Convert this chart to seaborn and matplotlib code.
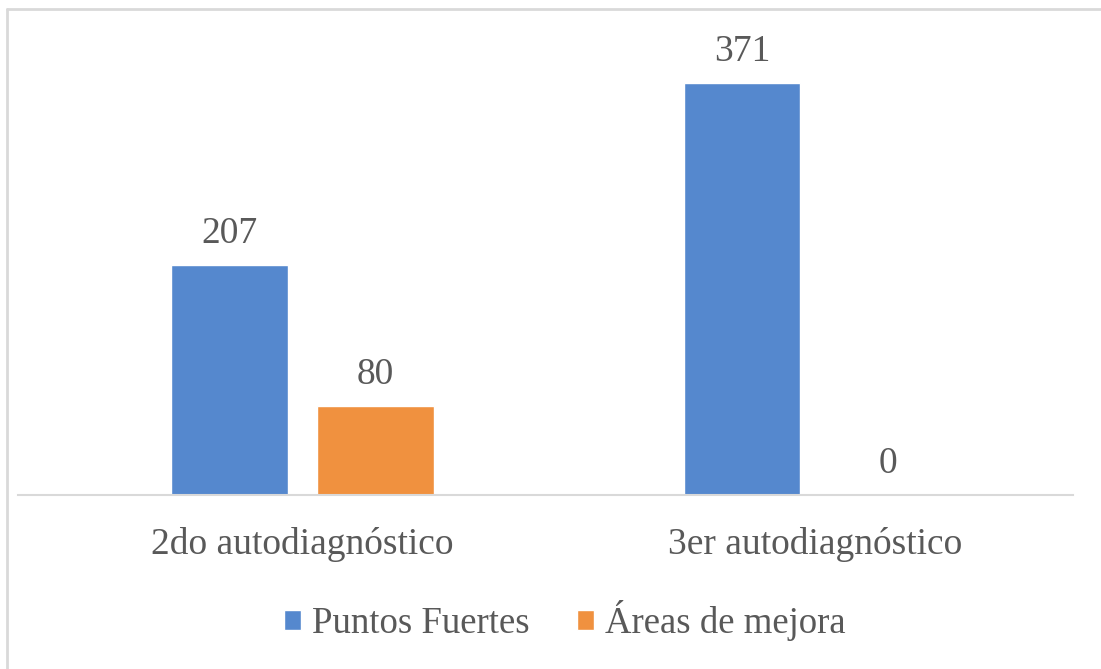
import matplotlib
matplotlib.use("Agg")
import matplotlib.pyplot as plt
import seaborn as sns
import pandas as pd
from matplotlib.lines import Line2D

categories = ["2do autodiagnóstico", "3er autodiagnóstico"]
series_names = ["Puntos Fuertes", "Áreas de mejora"]
puntos_fuertes = [207, 371]
areas_mejora = [80, 0]
colors = ["#5588CE", "#F0913F"]

rows = []
for i, c in enumerate(categories):
    rows.append({"cat": c, "serie": series_names[0], "val": puntos_fuertes[i]})
    rows.append({"cat": c, "serie": series_names[1], "val": areas_mejora[i]})
df = pd.DataFrame(rows)

sns.set_theme(style="white")
plt.rcParams["font.family"] = ["Liberation Serif", "DejaVu Serif"]
text_color = "#595959"
fs = 27

fig = plt.figure(figsize=(11.01, 6.69), dpi=100)
ax = fig.add_axes([18/1101, (669-495)/669, (1073-18)/1101, (495-20)/669])

sns.barplot(data=df, x="cat", y="val", hue="serie", palette=colors,
            width=0.57, gap=0.205, ax=ax, order=categories,
            hue_order=series_names, saturation=1, legend=True, errorbar=None)

ax.set_xlim(-0.555, 1.503)
ax.set_ylim(0, 428)
for cont in ax.containers:
    ax.bar_label(cont, padding=10, fontsize=fs, color=text_color)

for s in ["top", "right", "left"]:
    ax.spines[s].set_visible(False)
ax.spines["bottom"].set_color("#D9D9D9")
ax.spines["bottom"].set_linewidth(1.5)
ax.set_yticks([])
ax.set_xlabel("")
ax.set_ylabel("")
ax.tick_params(axis="x", length=0, pad=23, labelsize=fs, labelcolor=text_color)

leg = ax.legend(loc="center", bbox_to_anchor=(565/1101, 0.072),
                bbox_transform=fig.transFigure, ncol=2, frameon=False,
                prop={"size": 26.5}, handlelength=0.46, handleheight=0.46,
                handletextpad=0.3, columnspacing=1.3)
for t in leg.get_texts():
    t.set_color(text_color)

# outer frame (only top and left edges visible in the crop)
fig.add_artist(Line2D([7/1101, 1.0], [1 - 9/669, 1 - 9/669],
                      transform=fig.transFigure, color="#D9D9D9", linewidth=2))
fig.add_artist(Line2D([7/1101, 7/1101], [0.0, 1 - 9/669],
                      transform=fig.transFigure, color="#D9D9D9", linewidth=2))

fig.savefig("out.png", dpi=100)
